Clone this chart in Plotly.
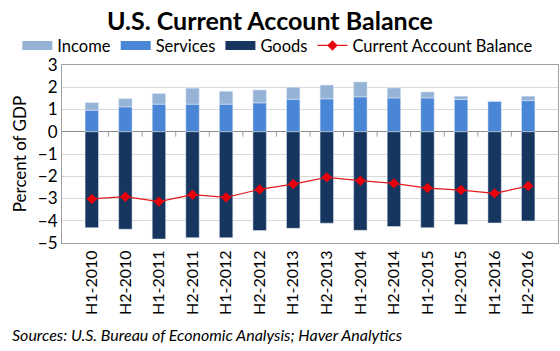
import plotly.graph_objects as go

categories = ["H1-2010", "H2-2010", "H1-2011", "H2-2011", "H1-2012", "H2-2012", "H1-2013",
              "H2-2013", "H1-2014", "H2-2014", "H1-2015", "H2-2015", "H1-2016", "H2-2016"]
goods = [-4.31, -4.38, -4.82, -4.76, -4.76, -4.44, -4.34, -4.11, -4.43, -4.26, -4.31, -4.17, -4.10, -4.01]
services = [0.97, 1.12, 1.24, 1.24, 1.24, 1.30, 1.46, 1.48, 1.57, 1.52, 1.52, 1.45, 1.37, 1.40]
income = [0.34, 0.37, 0.48, 0.72, 0.58, 0.58, 0.54, 0.62, 0.67, 0.45, 0.27, 0.15, 0.01, 0.20]
cab = [-3.02, -2.92, -3.14, -2.83, -2.95, -2.59, -2.35, -2.05, -2.20, -2.32, -2.53, -2.62, -2.77, -2.44]
yticks = [3, 2, 1, 0, -1, -2, -3, -4, -5]

FONT = "Lato, 'Open Sans', sans-serif"
C_INC, C_SRV, C_GDS = "#95B3D7", "#4A86D6", "#16365F"

fig = go.Figure()
# stacked bars (services first so income sits on top)
fig.add_trace(go.Bar(x=categories, y=services, name="Services", marker_color=C_SRV, width=0.4,
                     showlegend=False))
fig.add_trace(go.Bar(x=categories, y=income, name="Income", marker_color=C_INC, width=0.4,
                     showlegend=False))
fig.add_trace(go.Bar(x=categories, y=goods, name="Goods", marker_color=C_GDS, width=0.4,
                     showlegend=False))
# legend entries drawn as wide swatches
for nm, col in [("Income", C_INC), ("Services", C_SRV), ("Goods", C_GDS)]:
    fig.add_trace(go.Scatter(x=[categories[0]], y=[None], name=nm, mode="lines",
                             line=dict(color=col, width=9), hoverinfo="skip"))
fig.add_trace(go.Scatter(x=categories, y=cab, name="Current Account Balance", mode="lines+markers",
                         line=dict(color="#E31A1C", width=1.2),
                         marker=dict(symbol="diamond", size=8, color="#E8000B")))

fig.update_layout(
    barmode="relative",
    width=560, height=351,
    margin=dict(l=62, r=2, t=65, b=108),
    paper_bgcolor="white", plot_bgcolor="white",
    font=dict(family=FONT, color="black"),
    title=dict(text="<b>U.S. Current Account Balance</b>", x=0.482, xanchor="center",
               y=0.94, yanchor="middle", font=dict(size=25, family=FONT, color="black")),
    legend=dict(orientation="h", x=-0.09, xanchor="left", y=1.01, yanchor="bottom",
                font=dict(size=16.5, family=FONT), traceorder="normal",
                itemwidth=30, tracegroupgap=0, bgcolor="rgba(0,0,0,0)"),
    showlegend=True,
)
fig.update_xaxes(type="category", showline=True, linecolor="#A0A0A0", linewidth=1, mirror=True,
                 ticks="", tickangle=-90, tickfont=dict(size=16, family=FONT), showgrid=False)
fig.update_yaxes(range=[-5, 3], tickvals=yticks, showline=True, linecolor="#A0A0A0", linewidth=1,
                 mirror=True, showgrid=True, gridcolor="#D9D9D9", gridwidth=1,
                 zeroline=True, zerolinecolor="#8C8C8C", zerolinewidth=1,
                 tickfont=dict(size=17, family=FONT), ticks="",
                 title=dict(text="Percent of GDP", font=dict(size=17, family=FONT), standoff=6))

# small tick marks on the zero line between categories
for i in range(len(categories) - 1):
    fig.add_shape(type="line", xref="x", yref="y", x0=i + 0.5, x1=i + 0.5, y0=0, y1=-0.22,
                  line=dict(color="#A0A0A0", width=1), layer="above")

fig.add_annotation(text="<i>Sources: U.S. Bureau of Economic Analysis; Haver Analytics</i>",
                   xref="paper", yref="paper", x=-0.105, xanchor="left", y=-0.513, yanchor="middle",
                   showarrow=False, font=dict(size=16, family=FONT, color="black"))

fig.write_html("out.html")
